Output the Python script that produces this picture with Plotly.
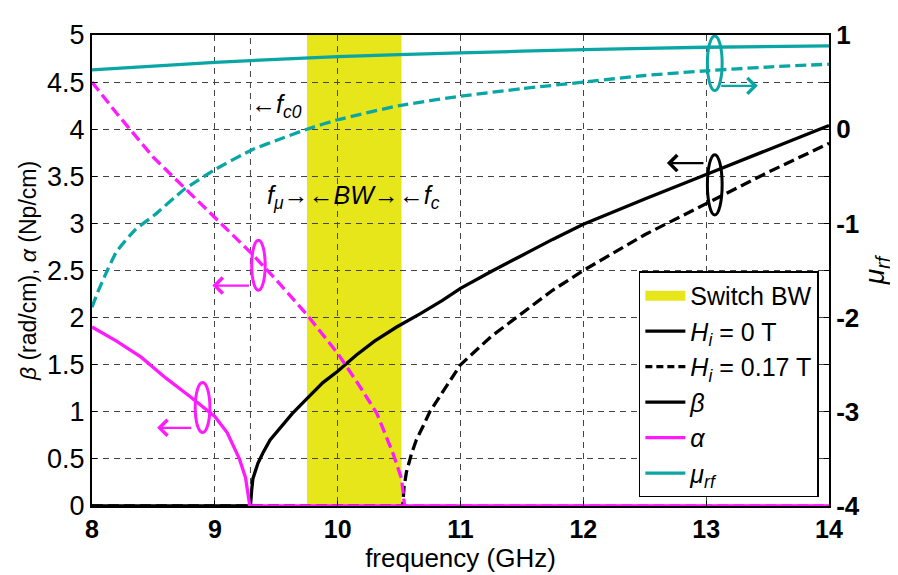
import plotly.graph_objects as go

# ---------------- data ----------------
freq_alpha_h0 = [8.0, 8.2, 8.4, 8.6, 8.8, 9.0, 9.1, 9.2, 9.25, 9.285, 14.0]
alpha_h0 = [1.9, 1.75, 1.58, 1.36, 1.16, 0.95, 0.78, 0.5, 0.3, 0.0, 0.0]

freq_alpha_h17 = [8.0, 8.2, 8.5, 8.75, 9.0, 9.3, 9.5, 9.75, 10.0, 10.16, 10.32, 10.45, 10.52, 10.545, 14.0]
alpha_h17 = [4.5, 4.17, 3.7, 3.38, 3.06, 2.68, 2.4, 2.03, 1.62, 1.31, 0.98, 0.56, 0.29, 0.0, 0.0]

freq_beta_h0 = [8.0, 9.29, 9.3, 9.31, 9.35, 9.39, 9.45, 9.53, 9.63, 9.75, 9.88, 10.0, 10.15, 10.3,
                10.48, 10.67, 10.85, 11.0, 11.25, 11.5, 11.75, 12.0, 12.5, 13.0, 13.5, 14.0]
beta_h0 = [0.0, 0.0, 0.17, 0.29, 0.45, 0.56, 0.7, 0.83, 0.98, 1.14, 1.31, 1.43, 1.6, 1.75,
           1.9, 2.04, 2.18, 2.31, 2.49, 2.66, 2.83, 2.99, 3.26, 3.52, 3.78, 4.04]

freq_beta_h17 = [8.0, 10.53, 10.54, 10.56, 10.6, 10.64, 10.7, 10.75, 10.85, 11.0, 11.25, 11.5,
                 11.75, 12.0, 12.5, 13.0, 13.5, 14.0]
beta_h17 = [0.0, 0.0, 0.2, 0.36, 0.55, 0.7, 0.86, 1.0, 1.2, 1.5, 1.8, 2.05,
            2.29, 2.5, 2.88, 3.21, 3.54, 3.85]

freq_mu_h0 = [8.0, 9.0, 10.0, 11.0, 12.0, 13.0, 14.0]
mu_h0 = [0.63, 0.71, 0.77, 0.81, 0.845, 0.87, 0.885]

freq_mu_h17 = [8.0, 8.05, 8.1, 8.2, 8.35, 8.5, 8.75, 9.0, 9.3, 9.5, 9.75, 10.0, 10.5,
               11.0, 11.5, 12.0, 12.5, 13.0, 13.5, 14.0]
mu_h17 = [-1.89, -1.72, -1.57, -1.3, -1.07, -0.92, -0.64, -0.43, -0.22, -0.12, 0.0, 0.1, 0.25,
          0.35, 0.43, 0.5, 0.57, 0.62, 0.66, 0.69]

switch_bw = [9.75, 10.52]      # GHz, yellow band
f_c0 = 9.29                   # GHz, extra dashed marker line

x_ticks = [8, 9, 10, 11, 12, 13, 14]
left_ticks = [0, 0.5, 1, 1.5, 2, 2.5, 3, 3.5, 4, 4.5, 5]
right_ticks = [-4, -3.5, -3, -2.5, -2, -1.5, -1, -0.5, 0, 0.5, 1]
right_labels = ["-4", "", "-3", "", "-2", "", "-1", "", "0", "", "1"]

# ---------------- styling ----------------
MAGENTA = "#FF1AFF"
CYAN = "#0AA6A6"
YELLOW = "#E6E61A"
BLACK = "#000000"
GRID = "#444444"
FONT = "Arial, Liberation Sans, sans-serif"
DASH = "11px,5px"
LW = 3.3
SMOOTH = dict(shape="spline", smoothing=0.5)

fig = go.Figure()

# beta curves (drawn first so alpha zero-line lies on top)
fig.add_trace(go.Scatter(x=freq_beta_h17, y=beta_h17, mode="lines", showlegend=False,
                         line=dict(color=BLACK, width=LW, dash=DASH)))
fig.add_trace(go.Scatter(x=freq_beta_h0, y=beta_h0, mode="lines", showlegend=False,
                         line=dict(color=BLACK, width=LW)))
# alpha curves
fig.add_trace(go.Scatter(x=freq_alpha_h17, y=alpha_h17, mode="lines", showlegend=False,
                         line=dict(color=MAGENTA, width=LW, dash=DASH)))
fig.add_trace(go.Scatter(x=freq_alpha_h0, y=alpha_h0, mode="lines", showlegend=False,
                         line=dict(color=MAGENTA, width=LW)))
# mu_rf curves (right axis)
fig.add_trace(go.Scatter(x=freq_mu_h17, y=mu_h17, mode="lines", showlegend=False, yaxis="y2",
                         line=dict(color=CYAN, width=LW, dash=DASH, **SMOOTH)))
fig.add_trace(go.Scatter(x=freq_mu_h0, y=mu_h0, mode="lines", showlegend=False, yaxis="y2",
                         line=dict(color=CYAN, width=LW, **SMOOTH)))

# legend entries
fig.add_trace(go.Scatter(x=[None], y=[None], mode="lines", name="Switch BW",
                         line=dict(color=YELLOW, width=25)))
fig.add_trace(go.Scatter(x=[None], y=[None], mode="lines", name="<i>H</i><sub><i>i</i></sub> = 0 T",
                         line=dict(color=BLACK, width=LW)))
fig.add_trace(go.Scatter(x=[None], y=[None], mode="lines", name="<i>H</i><sub><i>i</i></sub> = 0.17 T",
                         line=dict(color=BLACK, width=LW, dash="7px,4px")))
fig.add_trace(go.Scatter(x=[None], y=[None], mode="lines", name="<i>β</i>",
                         line=dict(color=BLACK, width=LW)))
fig.add_trace(go.Scatter(x=[None], y=[None], mode="lines", name="<i>α</i>",
                         line=dict(color=MAGENTA, width=LW)))
fig.add_trace(go.Scatter(x=[None], y=[None], mode="lines", name="<i>μ</i><sub><i>rf</i></sub>",
                         line=dict(color=CYAN, width=LW)))

shapes = [
    dict(type="rect", xref="x", yref="paper", x0=switch_bw[0], x1=switch_bw[1], y0=0, y1=1,
         fillcolor=YELLOW, line=dict(width=0), layer="below"),
    dict(type="line", xref="x", yref="paper", x0=f_c0, x1=f_c0, y0=0, y1=1,
         line=dict(color=GRID, width=1, dash="6px,5px"), layer="below"),
    # ellipses marking curve groups
    dict(type="circle", xref="x", yref="y", x0=13.01, x1=13.13, y0=4.41, y1=4.99,
         line=dict(color=CYAN, width=3)),
    dict(type="circle", xref="x", yref="y", x0=13.01, x1=13.13, y0=3.09, y1=3.73,
         line=dict(color=BLACK, width=3)),
    dict(type="circle", xref="x", yref="y", x0=9.30, x1=9.41, y0=2.29, y1=2.82,
         line=dict(color=MAGENTA, width=3)),
    dict(type="circle", xref="x", yref="y", x0=8.84, x1=8.96, y0=0.78, y1=1.31,
         line=dict(color=MAGENTA, width=3)),
]

def arrow(x_tail, x_head, y, color):
    return dict(x=x_head, y=y, ax=x_tail, ay=y, xref="x", yref="y", axref="x", ayref="y",
                text="", showarrow=True, arrowhead=4, arrowsize=1.4, arrowwidth=2.2,
                arrowcolor=color)

ANN_FONT = dict(size=25, family=FONT, color=BLACK)
annotations = [
    arrow(13.11, 13.42, 4.46, CYAN),
    arrow(12.99, 12.68, 3.64, BLACK),
    arrow(9.29, 8.98, 2.34, MAGENTA),
    arrow(8.82, 8.53, 0.83, MAGENTA),
    dict(x=f_c0, y=4.25, xref="x", yref="y", xanchor="left", yanchor="middle", showarrow=False,
         text="←<i>f</i><sub><i>c0</i></sub>", font=ANN_FONT, borderpad=0),
    dict(x=10.13, y=3.28, xref="x", yref="y", xanchor="center", yanchor="middle",
         showarrow=False,
         text="<i>f</i><sub><i>μ</i></sub>→←<i>BW</i>→←<i>f</i><sub><i>c</i></sub>",
         font=ANN_FONT, borderpad=0),
]

fig.update_layout(
    width=890, height=567,
    margin=dict(l=84, r=69, t=12, b=67),
    paper_bgcolor="white", plot_bgcolor="white",
    font=dict(family=FONT, color=BLACK, size=22),
    shapes=shapes, annotations=annotations,
    xaxis=dict(range=[8, 14], tickvals=x_ticks, ticks="inside", ticklen=5, tickcolor=BLACK,
               showline=True, linecolor=BLACK, linewidth=2, mirror=True,
               showgrid=True, gridcolor=GRID, gridwidth=1, griddash="6px,5px",
               zeroline=False, ticklabeloverflow="allow",
               tickfont=dict(size=25, family=FONT, weight="bold"),
               title=dict(text="frequency (GHz)", font=dict(size=26, family=FONT), standoff=2)),
    yaxis=dict(range=[0, 5], tickvals=left_ticks, ticks="inside", ticklen=5, tickcolor=BLACK,
               showline=True, linecolor=BLACK, linewidth=2,
               showgrid=True, gridcolor=GRID, gridwidth=1, griddash="6px,5px",
               zeroline=False, ticklabeloverflow="allow",
               tickfont=dict(size=27, family=FONT),
               title=dict(text="<i>β</i> (rad/cm), <i>α</i> (Np/cm)",
                          font=dict(size=23, family=FONT), standoff=4)),
    yaxis2=dict(range=[-4, 1], tickvals=right_ticks, ticktext=right_labels, overlaying="y",
                side="right", ticks="inside", ticklen=5, tickcolor=BLACK,
                showline=True, linecolor=BLACK, linewidth=2, showgrid=False, zeroline=False,
                ticklabeloverflow="allow",
                tickfont=dict(size=26, family=FONT, weight="bold"),
                title=dict(text="<i>μ</i><sub><i>rf</i></sub>", font=dict(size=28, family=FONT),
                           standoff=6)),
    legend=dict(x=0.742, y=0.498, xanchor="left", yanchor="top", bgcolor="white",
                bordercolor=BLACK, borderwidth=1.5, font=dict(size=25, family=FONT),
                itemwidth=40, tracegroupgap=0),
)

fig.write_html("out.html")
